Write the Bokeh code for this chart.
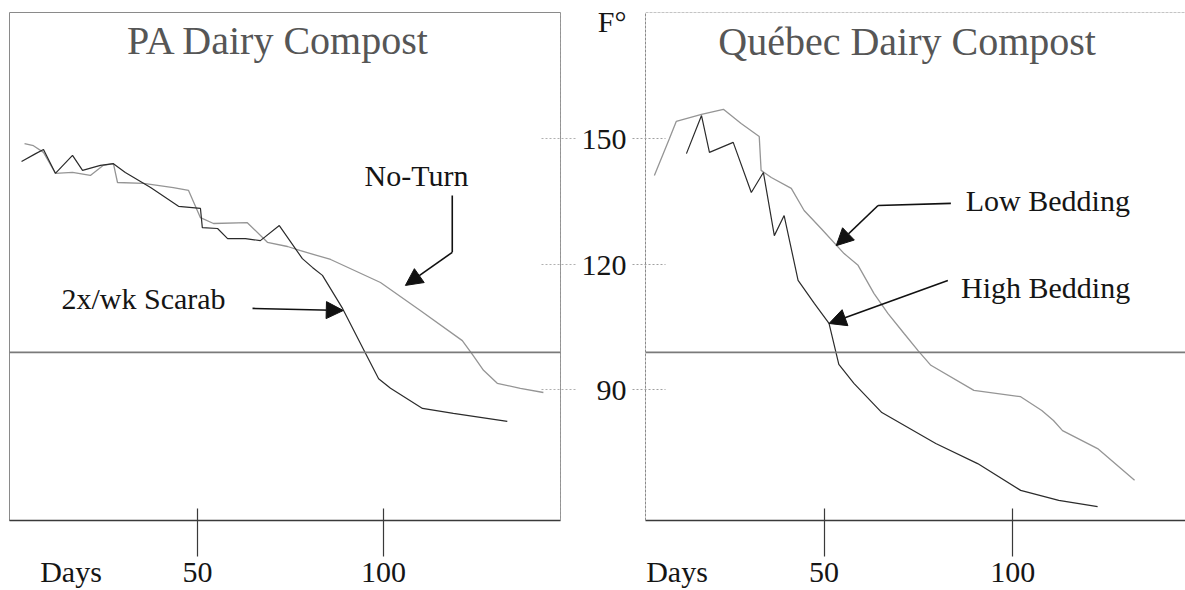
from bokeh.plotting import figure
from bokeh.models import Range1d, FixedTicker, Label, Arrow, NormalHead, Span, LinearAxis
from bokeh.layouts import row
from bokeh.embed import file_html
from bokeh.resources import INLINE

# ---------------- data (days, degrees F) ----------------
pa_noturn_days = [3.5, 5.9, 8.6, 11.8, 16.4, 21.2, 24.7, 27.4, 28.5, 35.5, 43.5, 47.6, 50.8, 54.3,
                  63.4, 68.8, 74.2, 77.7, 85.8, 99.2, 109.9, 121.2, 123.9, 126.9, 130.6, 136.8, 143.0]
pa_noturn_temp = [148.9, 148.4, 146.8, 141.8, 142.0, 141.3, 143.7, 144.1, 139.6, 139.4, 138.4, 137.7,
                  131.2, 129.8, 130.0, 125.3, 124.3, 123.3, 121.2, 115.7, 109.0, 101.8, 98.5, 94.7,
                  91.6, 90.4, 89.4]

pa_scarab_days = [2.7, 6.5, 8.6, 11.8, 16.4, 19.1, 23.9, 27.4, 30.6, 37.4, 44.9, 50.8, 51.3, 55.4,
                  58.1, 62.9, 66.9, 72.0, 78.2, 80.9, 83.6, 89.0, 95.2, 98.7, 101.9, 110.5, 118.8, 133.3]
pa_scarab_temp = [144.6, 146.5, 147.5, 141.8, 146.1, 142.5, 143.7, 144.1, 142.0, 138.4, 133.9, 133.4,
                  128.8, 128.6, 126.2, 126.2, 125.7, 129.3, 121.4, 119.3, 117.4, 109.5, 98.7, 92.7,
                  90.4, 85.6, 84.4, 82.5]

qc_low_days = [5.0, 9.0, 10.8, 17.5, 23.3, 28.0, 32.8, 33.3, 36.0, 41.3, 44.7, 49.2, 55.3, 59.0,
               63.2, 66.9, 71.2, 74.9, 78.3, 89.7, 102.1, 107.7, 110.8, 113.2, 122.5, 132.3]
qc_low_temp = [141.3, 150.1, 154.2, 155.9, 157.1, 153.7, 150.6, 142.5, 140.8, 138.2, 132.9, 128.6,
               122.6, 119.8, 113.1, 108.3, 103.5, 99.4, 95.9, 89.9, 88.4, 85.1, 82.7, 80.3, 76.0, 68.4]

qc_high_days = [13.5, 17.5, 19.6, 25.9, 30.7, 33.9, 36.8, 39.4, 43.1, 47.4, 51.3, 53.9, 57.9, 65.3,
                79.6, 90.7, 102.1, 112.2, 122.5]
qc_high_temp = [146.5, 155.6, 146.8, 149.2, 137.2, 142.0, 126.9, 131.7, 116.2, 110.7, 105.9, 96.1,
                91.6, 84.6, 77.2, 72.4, 66.0, 63.6, 62.1]

threshold_temp = 99
x_ticks = [50, 100]
y_ticks = [90, 120, 150]

left_title = "PA Dairy Compost"
right_title = "Québec Dairy Compost"
x_label = "Days"
y_label = "F°"
left_days_pos = 16     # where the "Days" caption sits along each x axis
right_days_pos = 11
y_label_pos = 178      # where "F°" sits along the y axis

# ---------------- styles ----------------
SERIF = "Liberation Serif"
DARK = "#2b2b2b"
GRAY = "#959595"
TXT = "#151515"
FS = "30px"
Y_RANGE = (58.8, 180.24)


def base_fig(width, xr, mbl, mbr, ylo):
    p = figure(width=width, height=590, x_range=Range1d(*xr), y_range=Range1d(*Y_RANGE),
               output_backend="svg", toolbar_location=None, y_axis_location=ylo,
               min_border_left=mbl, min_border_right=mbr, min_border_top=12,
               min_border_bottom=70, background_fill_color="white",
               border_fill_color="white")
    p.xgrid.visible = False
    p.ygrid.visible = False
    # tick marks (nearest the frame)
    ax = p.xaxis[0]
    ax.ticker = FixedTicker(ticks=x_ticks)
    ax.major_tick_in = 12
    ax.major_tick_out = 36
    ax.minor_tick_in = 0
    ax.minor_tick_out = 0
    ax.axis_line_color = "#3a3a3a"
    ax.axis_line_width = 1.6
    ax.major_tick_line_color = "#3a3a3a"
    ax.major_tick_line_width = 1.2
    ax.major_label_text_font_size = "0px"
    ax.major_label_standoff = 0
    ax.major_label_overrides = {t: "" for t in x_ticks}
    return p


def label_axis(p, place, ticks, overrides, standoff):
    a = LinearAxis(ticker=FixedTicker(ticks=ticks), major_label_overrides=overrides,
                   major_tick_in=0, major_tick_out=0, minor_tick_in=0, minor_tick_out=0,
                   major_tick_line_color=None, minor_tick_line_color=None,
                   axis_line_color=None, major_label_standoff=standoff,
                   major_label_text_font=SERIF, major_label_text_font_size=FS,
                   major_label_text_color=TXT, major_label_text_line_height=0.8)
    p.add_layout(a, place)
    return a


# ---------------- left panel ----------------
left = base_fig(578, (-0.54, 147.6), 9, 18, "right")
ry = left.yaxis[0]
ry.ticker = FixedTicker(ticks=y_ticks)
ry.major_tick_in = 20
ry.major_tick_out = 15
ry.minor_tick_in = 0
ry.minor_tick_out = 0
ry.major_tick_line_color = "#b0b0b0"
ry.major_tick_line_dash = "2 2"
ry.axis_line_color = "#9a9a9a"
ry.axis_line_dash = "3 1"
ry.major_label_text_font_size = "0px"
ry.major_label_standoff = 0
ry.major_label_overrides = {t: "" for t in y_ticks}
left.outline_line_color = "#8a8a8a"
left.outline_line_width = 1
label_axis(left, "below", [left_days_pos] + x_ticks, {left_days_pos: x_label}, -2)
left.add_layout(Span(location=threshold_temp, dimension="width", line_color="#7a7a7a",
                     line_width=1.6))
left.line(pa_noturn_days, pa_noturn_temp, line_color=GRAY, line_width=1.3)
left.line(pa_scarab_days, pa_scarab_temp, line_color=DARK, line_width=1.2)

# ---------------- right panel ----------------
right = base_fig(607, (2.65, 145.8), 66, 0, "left")
right.outline_line_color = None
ya = right.yaxis[0]
ya.ticker = FixedTicker(ticks=y_ticks)
ya.major_tick_in = 20
ya.major_tick_out = 13
ya.minor_tick_in = 0
ya.minor_tick_out = 0
ya.major_tick_line_color = "#a0a0a0"
ya.major_tick_line_dash = "2 2"
ya.axis_line_color = "#8a8a8a"
ya.axis_line_dash = "3 1"
ya.major_label_text_font_size = "0px"
ya.major_label_standoff = 0
ya.major_label_overrides = {t: "" for t in y_ticks}
label_axis(right, "below", [right_days_pos] + x_ticks, {right_days_pos: x_label}, -2)
label_axis(right, "left", y_ticks + [y_label_pos], {y_label_pos: y_label}, 6)
right.add_layout(Span(location=right.y_range.end, dimension="width", line_color="#8a8a8a",
                      line_width=1, line_dash="3 1"))
right.add_layout(Span(location=threshold_temp, dimension="width", line_color="#7a7a7a",
                      line_width=1.6))
right.line(qc_low_days, qc_low_temp, line_color=GRAY, line_width=1.3)
right.line(qc_high_days, qc_high_temp, line_color=DARK, line_width=1.2)


# ---------------- annotations ----------------
def label(p, x, y, text, size=FS, color=TXT):
    p.add_layout(Label(x=x, y=y, text=text, text_font=SERIF, text_font_size=size,
                       text_color=color, text_align="center", text_baseline="middle"))


def arrow(p, pts):
    for (x0, y0), (x1, y1) in zip(pts[:-2], pts[1:-1]):
        p.add_layout(Arrow(end=None, x_start=x0, y_start=y0, x_end=x1, y_end=y1,
                           line_color="#111111", line_width=1.6))
    (x0, y0), (x1, y1) = pts[-2], pts[-1]
    p.add_layout(Arrow(end=NormalHead(size=17, fill_color="#111111", line_color="#111111"),
                       x_start=x0, y_start=y0, x_end=x1, y_end=y1,
                       line_color="#111111", line_width=1.6))


label(left, 71.8, 173.6, left_title, size="40px", color="#565656")
label(right, 72.0, 173.3, right_title, size="40px", color="#565656")

label(left, 108.9, 141.3, "No-Turn")
arrow(left, [(118.5, 136.5), (118.5, 122.9), (105.9, 115.0)])
label(left, 35.5, 111.9, "2x/wk Scarab")
arrow(left, [(64.8, 109.5), (89.2, 109.0)])

label(right, 109.3, 135.3, "Low Bedding")
arrow(right, [(83.6, 134.6), (64.3, 134.1), (53.2, 124.5)])
label(right, 108.7, 114.5, "High Bedding")
arrow(right, [(82.8, 116.2), (51.3, 105.9)])

layout = row(left, right)
open("out.html", "w").write(file_html(layout, INLINE))
